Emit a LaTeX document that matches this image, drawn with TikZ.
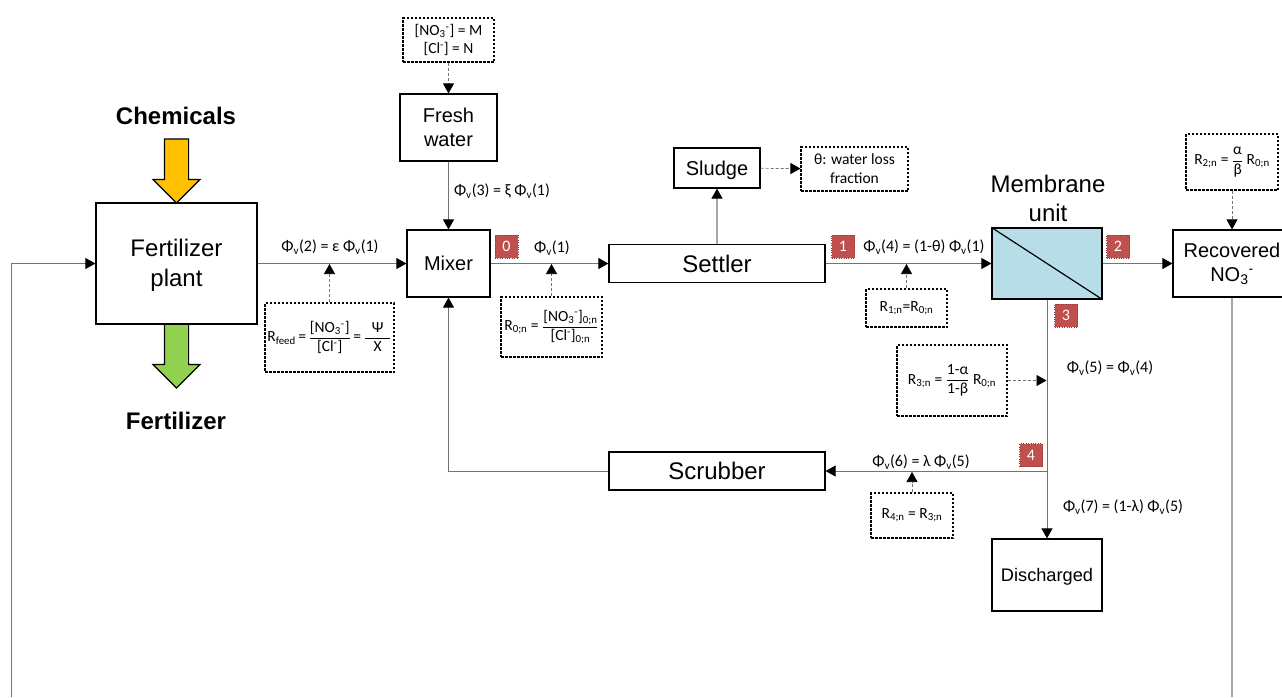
\documentclass[tikz,border=0pt]{standalone}
\usepackage{fontspec}
\setmainfont{Carlito}
\newfontfamily\arialfont{Liberation Sans}
\usetikzlibrary{arrows.meta,shapes.arrows}
\newcommand{\Fv}[1]{Φ\textsubscript{v}(#1)}
\newcommand{\Rn}[1]{R\textsubscript{#1}}
\newcommand{\NOt}{NO\textsubscript{3}\textsuperscript{-}}
\newcommand{\Cln}{Cl\textsuperscript{-}}
\newcommand{\ffrac}[2]{\ensuremath{\displaystyle\frac{\mbox{#1}}{\mbox{#2}}}}
\definecolor{badgered}{RGB}{192,80,77}
\definecolor{badgeline}{RGB}{140,56,54}
\definecolor{memblue}{RGB}{183,222,232}
\definecolor{chemyellow}{RGB}{255,192,0}
\definecolor{fertgreen}{RGB}{146,208,80}
\tikzset{
    >={Triangle[width=11pt,length=10pt,black]},
    unit/.style={draw, line width=1.2pt, fill=white, align=center, inner sep=0pt, font=\arialfont\fontsize{#1}{24}\selectfont},
    info/.style={draw, line width=1.1pt, dash pattern=on 2.5pt off 1.5pt, align=center, inner sep=0pt, font=\fontsize{15.5}{19}\selectfont},
    flowtext/.style={inner sep=0pt, font=\fontsize{16}{18}\selectfont},
    badge/.style={draw=badgeline, dotted, fill=badgered, text=white, minimum size=23pt, inner sep=0pt, font=\fontsize{16}{18}\selectfont},
    flow/.style={draw=black!55, line width=0.8pt, ->},
    line/.style={draw=black!55, line width=0.8pt},
    hint/.style={draw=black!55, line width=0.7pt, dash pattern=on 3pt off 2pt, ->},
    blockarrow/.style={draw, line width=1.1pt, single arrow, single arrow tip angle=90, single arrow head extend=11.5pt, minimum width=46pt, minimum height=64pt, inner sep=0pt, outer sep=0pt, rotate=-90, anchor=tip},
}
\begin{document}
\begin{tikzpicture}[x=1pt,y=-1pt]
    \clip (0,0) rectangle (1282,697);

    \node[blockarrow, fill=chemyellow] (chemarrow) at (176.5,203) {\rule{0pt}{23pt}};
    \node[blockarrow, fill=fertgreen] (fertarrow) at (176.5,388) {\rule{0pt}{23pt}};
    \node[unit=24, font=\arialfont\fontsize{24}{30}\selectfont, minimum width=161pt, minimum height=121pt] (plant) at (176.5,263.5) {\rule{0pt}{21.5pt}Fertilizer\\plant};
    \node[inner sep=0pt, font=\arialfont\bfseries\fontsize{24}{24}\selectfont] (chem) at (176,116) {Chemicals};
    \node[inner sep=0pt, font=\arialfont\bfseries\fontsize{24}{24}\selectfont] (fert) at (176,421) {Fertilizer};

    \node[unit=20, minimum width=97pt, minimum height=67pt] (fresh) at (448.5,127.5) {Fresh\\water};
    \node[unit=20, minimum width=83pt, minimum height=67pt] (mixer) at (448.5,263.5) {Mixer};
    \node[unit=24, minimum width=216pt, minimum height=38pt] (settler) at (717,263.5) {Settler};
    \node[unit=20, text depth=0pt, minimum width=86pt, minimum height=40pt] (sludge) at (717,168) {Sludge};
    \node[unit=24, minimum width=216pt, minimum height=38pt] (scrubber) at (717,471) {Scrubber};
    \node[draw, line width=1.2pt, fill=memblue, minimum width=110pt, minimum height=71pt, inner sep=0pt] (membrane) at (1047,263.5) {};
    \node[inner sep=0pt, align=center, font=\arialfont\fontsize{24}{29}\selectfont] (memtext) at (1048,198) {Membrane\\unit};
    \node[unit=20, minimum width=118pt, minimum height=67pt] (recovered) at (1232,263.5) {Recovered\\\NOt};
    \node[unit=18.2, text depth=0pt, minimum width=110pt, minimum height=72pt] (discharged) at (1047,575) {Discharged};
    \draw[line width=1.2pt] (membrane.north west) to (membrane.south east);

    \node[info, minimum width=91pt, minimum height=44pt] (freshinfo) at (448.5,40) {[\NOt] = M\\[-1pt] {[\Cln] = N}};
    \node[info, minimum width=107pt, minimum height=44pt] (sludgeinfo) at (854.5,169) {θ: water loss\\fraction};
    \node[info, minimum width=129pt, minimum height=69pt] (feedinfo) at (329.5,337.5) {R\textsubscript{feed}\,=\,\ffrac{[\NOt]}{[\Cln]}\,=\,\ffrac{\hspace{7pt}Ψ\hspace{7pt}}{X}};
    \node[info, minimum width=101pt, minimum height=60pt] (zeroinfo) at (551.5,327) {\Rn{0;n} = \ffrac{[\NOt]\textsubscript{0;n}}{[\Cln]\textsubscript{0;n}}};
    \node[info, minimum width=81pt, minimum height=38pt] (oneinfo) at (906.5,308) {\Rn{1;n}=\Rn{0;n}};
    \node[info, minimum width=92pt, minimum height=56pt] (twoinfo) at (1232,162) {\Rn{2;n} = \ffrac{α}{β} \Rn{0;n}};
    \node[info, minimum width=110pt, minimum height=71pt] (threeinfo) at (952,380.5) {\Rn{3;n} = \ffrac{1-α}{1-β} \Rn{0;n}};
    \node[info, minimum width=82pt, minimum height=45pt] (fourinfo) at (912,515.5) {\Rn{4;n} = \Rn{3;n}};

    \node[badge] (b0) at (506.5,246.5) {0};
    \node[badge] (b1) at (843,246.5) {1};
    \node[badge] (b2) at (1118,246.5) {2};
    \node[badge] (b3) at (1066,315.5) {3};
    \node[badge] (b4) at (1031,455) {4};

    \node[flowtext] (f2) at (330,247) {\Fv{2} = ε \Fv{1}};
    \node[flowtext] (f3) at (502,191) {\Fv{3} = ξ \Fv{1}};
    \node[flowtext] (f1) at (552,248) {\Fv{1}};
    \node[flowtext] (f4) at (924,247) {\Fv{4} = (1-θ) \Fv{1}};
    \node[flowtext] (f5) at (1110,368) {\Fv{5} = \Fv{4}};
    \node[flowtext] (f6) at (921,462) {\Fv{6} = λ \Fv{5}};
    \node[flowtext] (f7) at (1123,507) {\Fv{7} = (1-λ) \Fv{5}};

    \coordinate (feedend) at (329.5,264);
    \coordinate (zeroend) at (551.5,264);
    \coordinate (oneend) at (906.5,264);
    \coordinate (threeend) at (1046.5,380.5);
    \coordinate (fourend) at (912,472);
    \coordinate (split) at (1047,471);
    \coordinate (returnleft) at (11,697);
    \coordinate (returnright) at (1232,697);

    \draw[flow] (plant) to (mixer);
    \draw[flow] (fresh) to (mixer);
    \draw[flow] (mixer) to (settler);
    \draw[flow, draw=black!35, line width=1.1pt] (settler) to (sludge);
    \draw[flow] (settler) to (membrane);
    \draw[flow] (membrane) to (recovered);
    \draw[line] (membrane) to (split);
    \draw[flow] (split) to (discharged);
    \draw[flow] (split) to (scrubber);
    \draw[flow] (scrubber) -| (mixer);
    \draw[flow] (returnleft) |- (plant);
    \draw[line, draw=black!35, line width=1.1pt] (recovered) to (returnright);

    \draw[hint] (freshinfo) to (fresh);
    \draw[hint] (sludge) to (sludgeinfo);
    \draw[hint] (feedinfo) to (feedend);
    \draw[hint] (zeroinfo) to (zeroend);
    \draw[hint] (oneinfo) to (oneend);
    \draw[hint] (twoinfo) to (recovered);
    \draw[hint] (threeinfo) to (threeend);
    \draw[hint] (fourinfo) to (fourend);
\end{tikzpicture}
\end{document}
